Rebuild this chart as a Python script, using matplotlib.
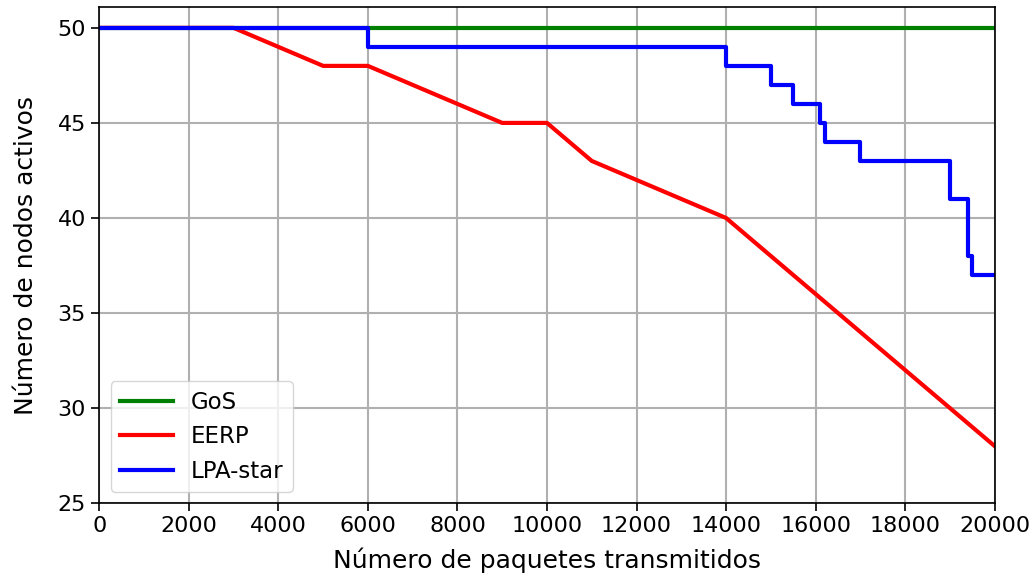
import matplotlib
matplotlib.use('Agg')
import matplotlib.pyplot as plt

# Numero de paquetes transmitidos (eje x)
paquetes = [0, 1000, 2000, 3000, 4000, 5000, 6000, 7000, 8000, 9000, 10000,
            11000, 12000, 13000, 14000, 15000, 16000, 17000, 18000, 19000, 20000]

gos = [50] * len(paquetes)
eerp = [50, 50, 50, 50, 49, 48, 48, 47, 46, 45, 45,
        43, 42, 41, 40, 38, 36, 34, 32, 30, 28]

# LPA-star cambia por escalones
lpa_x = [0, 6000, 14000, 15000, 15500, 16100, 16200, 17000, 19000, 19400, 19500, 20000]
lpa_y = [50, 49, 48, 47, 46, 45, 44, 43, 41, 38, 37, 37]

fig, ax = plt.subplots(figsize=(10.34, 5.79), dpi=100)
fig.subplots_adjust(left=0.096, right=0.962, top=0.988, bottom=0.131)

ax.plot(paquetes, gos, color='green', lw=3, label='GoS')
ax.plot(paquetes, eerp, color='red', lw=3, label='EERP')
ax.step(lpa_x, lpa_y, where='post', color='blue', lw=3, label='LPA-star')

ax.set_xlim(0, 20000)
ax.set_ylim(25, 51.1)
ax.set_xticks(range(0, 20001, 2000))
ax.set_yticks(range(25, 51, 5))
ax.tick_params(labelsize=16, length=6, width=1.2)
for s in ax.spines.values():
    s.set_linewidth(1.2)
ax.grid(True, color='#b0b0b0', lw=1.5)
ax.set_xlabel('Número de paquetes transmitidos', fontsize=18, labelpad=8)
ax.set_ylabel('Número de nodos activos', fontsize=18, labelpad=14)
ax.legend(loc='lower left', fontsize=16.5, handlelength=2.3)

fig.savefig('out.png')
